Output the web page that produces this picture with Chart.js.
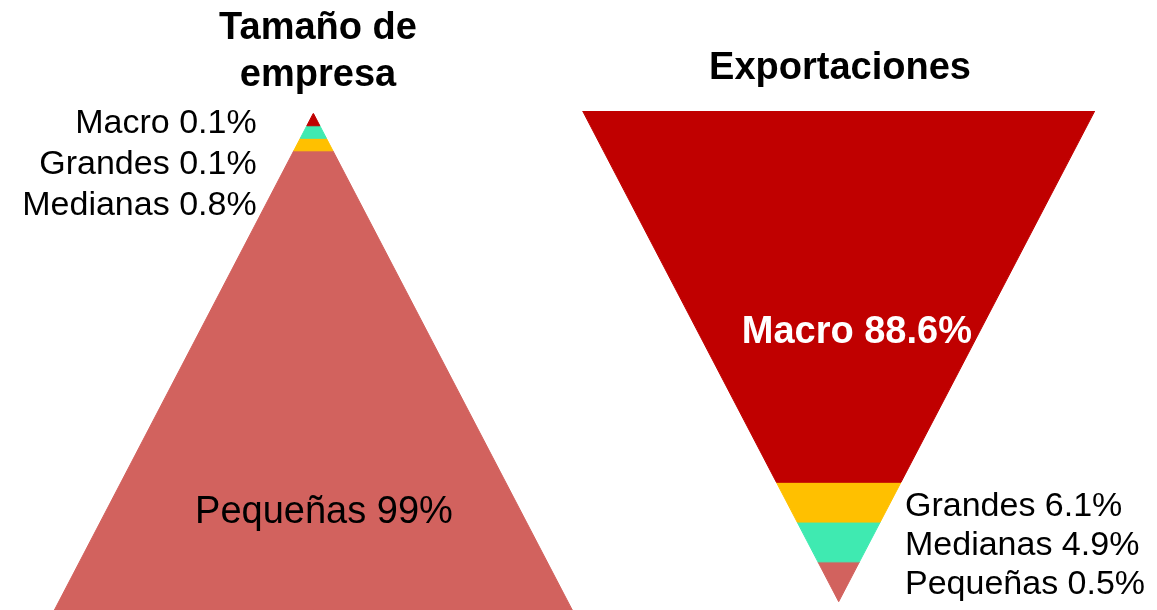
<!DOCTYPE html>
<html lang="es">
<head>
  <meta charset="UTF-8">
  <title>Tamaño de empresa / Exportaciones</title>
  <script src="https://cdn.jsdelivr.net/npm/chart.js"></script>
  <style>
    body {
      margin: 0;
      background: #ffffff;
      width: 1157px;
      height: 610px;
      position: relative;
      overflow: hidden;
    }
    canvas {
      position: absolute;
      top: 0;
    }
    #empresaChart { left: 0; }
    #exportChart { left: 560px; }
  </style>
</head>
<body>

  <canvas id="empresaChart" width="600" height="610"></canvas>
  <canvas id="exportChart" width="597" height="610"></canvas>

  <script>
    // categories, top band to bottom band in both triangles
    const categories = ['Macro', 'Grandes', 'Medianas', 'Pequeñas'];
    const empresas = [0.1, 0.1, 0.8, 99];          // share of firms, %
    const exportaciones = [88.6, 6.1, 4.9, 0.5];    // share of exports, %

    const empresaColors = ['#C00000', '#3FEAB1', '#FFC000', '#D2625E'];
    const exportColors = ['#C00000', '#FFC000', '#3FEAB1', '#D2625E'];

    Chart.defaults.font.family = "'Liberation Sans', Arial, sans-serif";

    // depth of each band (0 = top, 1 = bottom), tiny shares get a minimum so they stay visible
    function bandEdges(values, minBand) {
      const w = values.map(v => Math.max(v, minBand));
      const total = w.reduce((a, b) => a + b, 0);
      let acc = 0;
      return w.map(v => {
        const top = acc / total;
        acc += v;
        return [top, acc / total];
      });
    }

    // trapezoid outline for one band; halfWidth(d) gives the triangle half width at depth d
    function bandPolygon(d0, d1, halfWidth) {
      return [
        { x: -halfWidth(d0), y: d0 },
        { x: halfWidth(d0), y: d0 },
        { x: halfWidth(d1), y: d1 },
        { x: -halfWidth(d1), y: d1 },
        { x: -halfWidth(d0), y: d0 }
      ];
    }

    const bandLabels = {
      id: 'bandLabels',
      afterDatasetsDraw(chart, args, opts) {
        const { ctx, scales: { x, y } } = chart;
        ctx.save();
        ctx.textBaseline = 'middle';
        let row = 0;
        let rowY = null;
        categories.forEach((cat, i) => {
          const [d0, d1] = opts.bands[i];
          const text = cat + ' ' + opts.values[i] + '%';
          if (i === opts.inside) {
            ctx.font = opts.insideFont;
            ctx.fillStyle = opts.insideColor;
            ctx.textAlign = 'center';
            ctx.fillText(text, x.getPixelForValue(opts.insideX), y.getPixelForValue(d0 + (d1 - d0) * opts.insidePos) + 4);
          } else {
            if (rowY === null) rowY = y.getPixelForValue((d0 + d1) / 2) + 4;
            ctx.font = opts.outsideFont;
            ctx.fillStyle = '#000000';
            ctx.textAlign = opts.outsideAlign;
            ctx.fillText(text, x.getPixelForValue(opts.outsideX), rowY + row * opts.rowGap);
            row++;
          }
        });
        ctx.restore();
      }
    };

    function createTriangle(id, title, titlePadding, values, colors, shape, minBand, scaleX, maxY, padding, labels) {
      const bands = bandEdges(values, minBand);
      const halfWidth = shape === 'pyramid' ? d => d : d => 1 - d;

      new Chart(document.getElementById(id), {
        type: 'scatter',
        data: {
          datasets: categories.map((cat, i) => ({
            label: cat,
            data: bandPolygon(bands[i][0], bands[i][1], halfWidth),
            showLine: true,
            fill: 'shape',
            tension: 0,
            backgroundColor: colors[i],
            borderColor: colors[i],
            borderWidth: 1,
            pointRadius: 0
          }))
        },
        options: {
          responsive: false,
          animation: false,
          events: [],
          layout: { padding: padding },
          scales: {
            x: { type: 'linear', display: false, min: scaleX[0], max: scaleX[1] },
            y: { type: 'linear', display: false, reverse: true, min: 0, max: maxY }
          },
          plugins: {
            legend: { display: false },
            tooltip: { enabled: false },
            title: {
              display: true,
              text: title,
              color: '#000000',
              font: { size: 38, weight: 'bold', lineHeight: 1.24 },
              padding: titlePadding
            },
            bandLabels: Object.assign({ bands: bands, values: values }, labels)
          }
        },
        plugins: [bandLabels]
      });
    }

    createTriangle('empresaChart', ['Tamaño de', 'empresa'], { top: 5, bottom: 14 },
      empresas, empresaColors, 'pyramid', 2.7, [-1.017, 1.053], 1,
      { left: 50, right: 14, top: 0, bottom: 0 },
      {
        inside: 3, insideX: 0.041, insidePos: 0.78,
        insideFont: "38px 'Liberation Sans', Arial, sans-serif", insideColor: '#000000',
        outsideX: -0.219, outsideAlign: 'right', rowGap: 41,
        outsideFont: "34px 'Liberation Sans', Arial, sans-serif"
      });

    createTriangle('exportChart', 'Exportaciones', { top: 45, bottom: 19 },
      exportaciones, exportColors, 'funnel', 9.5, [-1.0105, 1.0207], 1.017,
      { left: 20, right: 57, top: 0, bottom: 0 },
      {
        inside: 0, insideX: 0.071, insidePos: 0.587,
        insideFont: "bold 38px 'Liberation Sans', Arial, sans-serif", insideColor: '#ffffff',
        outsideX: 0.259, outsideAlign: 'left', rowGap: 39,
        outsideFont: "34px 'Liberation Sans', Arial, sans-serif"
      });
  </script>

</body>
</html>
